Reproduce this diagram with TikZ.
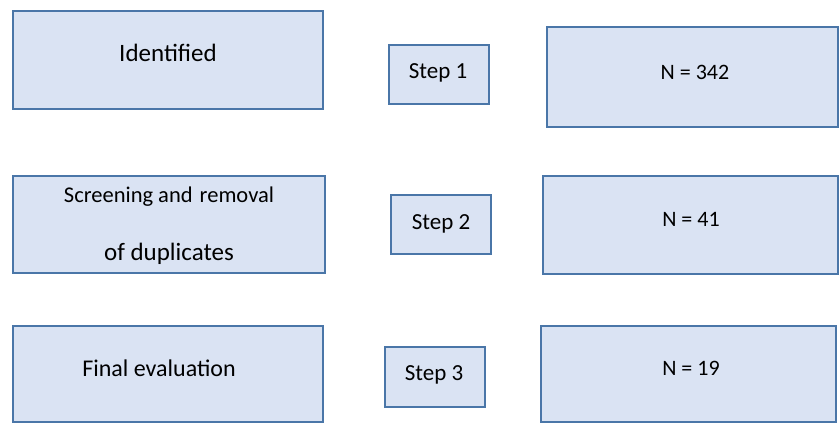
\documentclass[tikz,border=0pt]{standalone}
\usepackage{fontspec}
\setmainfont{Carlito}
\definecolor{boxfill}{HTML}{DAE3F3}
\definecolor{boxline}{HTML}{4A76A8}

\begin{document}
\begin{tikzpicture}[x=1pt, y=-1pt,
    box/.style={rectangle, draw=boxline, fill=boxfill, line width=1.5pt, inner sep=0pt},
    txt/.style={inner sep=0pt, font=\fontsize{22}{26}\selectfont},
    bigtxt/.style={inner sep=0pt, font=\fontsize{25}{30}\selectfont}]
                \useasboundingbox (0,0) rectangle (840,423);

                % Les étapes (gauche)
                \node[box, minimum width=310, minimum height=98] (ident) at (168,60) {};
                \node[box, minimum width=312, minimum height=97] (screen) at (169,224.5) {};
                \node[box, minimum width=310, minimum height=96] (final) at (168,374) {};

                % Les numéros
                \node[box, minimum width=100, minimum height=59] (step1) at (439,74.5) {};
                \node[box, minimum width=100, minimum height=59] (step2) at (441,224.5) {};
                \node[box, minimum width=100, minimum height=60] (step3) at (435,377) {};

                % Les effectifs
                \node[box, minimum width=291, minimum height=100] (n1) at (692.5,77) {};
                \node[box, minimum width=295, minimum height=98] (n2) at (690.5,225) {};
                \node[box, minimum width=295, minimum height=96] (n3) at (688.5,374) {};

                % Les textes
                \node[bigtxt] (identtxt) at (168,53) {Identified};
                \node[txt, font=\fontsize{22.5}{27}\selectfont] (screentxt) at (169,197) {Screening and\kern2pt\ removal};
                \node[bigtxt] (duptxt) at (169,254) {of duplicates};
                \node[bigtxt, font=\fontsize{24}{29}\selectfont] (finaltxt) at (159,368) {Final evaluation};
                \node[txt, font=\fontsize{23}{27}\selectfont] (step1txt) at (438,73) {Step 1};
                \node[txt, font=\fontsize{23}{27}\selectfont] (step2txt) at (441,224) {Step 2};
                \node[txt, font=\fontsize{23}{27}\selectfont] (step3txt) at (434,375) {Step 3};
                \node[txt] (n1txt) at (695,72) {N = 342};
                \node[txt] (n2txt) at (691,219) {N = 41};
                \node[txt] (n3txt) at (691,368) {N = 19};
            \end{tikzpicture}
\end{document}
